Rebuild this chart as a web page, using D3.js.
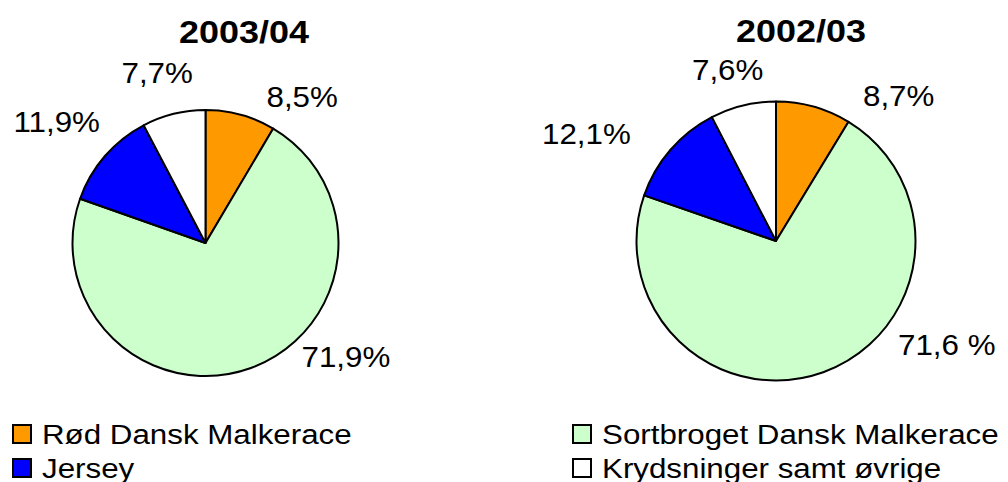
<!DOCTYPE html>
<html>
<head>
<meta charset="utf-8">
<script src="https://cdn.jsdelivr.net/npm/d3@7"></script>
<style>
  html, body { margin: 0; padding: 0; background: #ffffff; }
  svg { display: block; }
  text { font-family: "Liberation Sans", Arial, sans-serif; fill: #000; }
</style>
</head>
<body>
<svg id="chart" width="1008" height="482"></svg>
<script>
// ---- Data ----
const categories = ["Rød Dansk Malkerace", "Sortbroget Dansk Malkerace", "Jersey", "Krydsninger samt øvrige"];
const seasons = ["2003/04", "2002/03"];
const values0304 = [8.5, 71.9, 11.9, 7.7];
const values0203 = [8.7, 71.6, 12.1, 7.6];
const labels0304 = ["8,5%", "71,9%", "11,9%", "7,7%"];
const labels0203 = ["8,7%", "71,6 %", "12,1%", "7,6%"];
const colors = ["#FF9900", "#CCFFCC", "#0000FF", "#FFFFFF"];

// ---- Layout ----
const pies = [
  { title: seasons[0], values: values0304, labels: labels0304,
    cx: 205.5, cy: 243, r: 133, titleX: 244, titleY: 43,
    // label anchor positions (left x, baseline y) relative to pie centre, in category order
    labelPos: [[61, -136], [96, 124], [-192, -111], [-84, -160]] },
  { title: seasons[1], values: values0203, labels: labels0203,
    cx: 776, cy: 241, r: 139.5, titleX: 801, titleY: 42,
    labelPos: [[87, -135], [122, 114], [-234, -97], [-84, -161]] }
];

const svg = d3.select("#chart");
const pieGen = d3.pie().sort(null).value(d => d);

pies.forEach(p => {
  const g = svg.append("g").attr("transform", `translate(${p.cx},${p.cy})`);
  const arc = d3.arc().innerRadius(0).outerRadius(p.r);
  g.selectAll("path")
    .data(pieGen(p.values))
    .join("path")
    .attr("d", arc)
    .attr("fill", (d, i) => colors[i])
    .attr("stroke", "#000")
    .attr("stroke-width", 2)
    .attr("stroke-linejoin", "round");

  // title
  svg.append("g")
    .attr("transform", `translate(${p.titleX},${p.titleY}) scale(1.16,1)`)
    .append("text")
    .attr("text-anchor", "middle")
    .attr("font-size", 31)
    .attr("font-weight", "bold")
    .text(p.title);

  // value labels
  p.labels.forEach((lab, i) => {
    g.append("g")
      .attr("transform", `translate(${p.labelPos[i][0]},${p.labelPos[i][1]}) scale(1.08,1)`)
      .append("text")
      .attr("font-size", 29)
      .text(lab);
  });
});

// ---- Legend ----
const legendPos = [[12, 424], [572, 424], [12, 458], [572, 458]];
categories.forEach((c, i) => {
  const [x, y] = legendPos[i];
  const lg = svg.append("g").attr("transform", `translate(${x},${y})`);
  lg.append("rect")
    .attr("x", 1).attr("y", 1)
    .attr("width", 18).attr("height", 18)
    .attr("fill", colors[i])
    .attr("stroke", "#000")
    .attr("stroke-width", 2);
  lg.append("g")
    .attr("transform", "translate(30,19.5) scale(1.16,1)")
    .append("text")
    .attr("font-size", 27)
    .text(c);
});
</script>
</body>
</html>
